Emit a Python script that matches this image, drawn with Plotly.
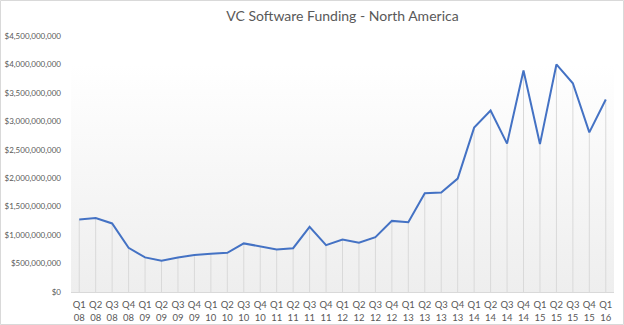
import plotly.graph_objects as go

quarters = ["Q1<br>08","Q2<br>08","Q3<br>08","Q4<br>08",
            "Q1<br>09","Q2<br>09","Q3<br>09","Q4<br>09",
            "Q1<br>10","Q2<br>10","Q3<br>10","Q4<br>10",
            "Q1<br>11","Q2<br>11","Q3<br>11","Q4<br>11",
            "Q1<br>12","Q2<br>12","Q3<br>12","Q4<br>12",
            "Q1<br>13","Q2<br>13","Q3<br>13","Q4<br>13",
            "Q1<br>14","Q2<br>14","Q3<br>14","Q4<br>14",
            "Q1<br>15","Q2<br>15","Q3<br>15","Q4<br>15",
            "Q1<br>16"]
funding = [1.275e9, 1.30e9, 1.205e9, 0.777e9,
           0.608e9, 0.55e9, 0.608e9, 0.65e9,
           0.672e9, 0.69e9, 0.854e9, 0.795e9,
           0.749e9, 0.77e9, 1.146e9, 0.824e9,
           0.924e9, 0.865e9, 0.965e9, 1.25e9,
           1.228e9, 1.737e9, 1.748e9, 1.994e9,
           2.889e9, 3.19e9, 2.608e9, 3.894e9,
           2.60e9, 4.0e9, 3.67e9, 2.806e9,
           3.385e9]
y_ticks = [0, 5e8, 1e9, 1.5e9, 2e9, 2.5e9, 3e9, 3.5e9, 4e9, 4.5e9]
bg_top = 4.0e9

n = len(quarters)
idx = list(range(n))

fig = go.Figure()

# background gradient panel
fig.add_trace(go.Scatter(
    x=[-0.5, n - 0.5], y=[bg_top, bg_top], mode="lines",
    line=dict(width=0), fill="tozeroy",
    fillgradient=dict(type="vertical", start=0, stop=bg_top,
                      colorscale=[[0, "#eeeeee"], [1, "#ffffff"]]),
    hoverinfo="skip", showlegend=False))

# drop lines
fig.add_trace(go.Scatter(
    x=idx, y=funding, mode="none",
    error_y=dict(type="data", symmetric=False, array=[0]*n,
                 arrayminus=funding, color="#d9d9d9", thickness=1, width=0),
    hoverinfo="skip", showlegend=False))

# main line
fig.add_trace(go.Scatter(
    x=idx, y=funding, mode="lines",
    line=dict(color="#4472C4", width=2),
    showlegend=False))

W, H = 624, 325
ml, mr, mt, mb = 71, 10, 36, 33
pw, ph = W - ml - mr, H - mt - mb

fig.update_layout(
    width=W, height=H,
    margin=dict(l=ml, r=mr, t=mt, b=mb),
    paper_bgcolor="white", plot_bgcolor="white",
    font=dict(family="Lato, Open Sans, sans-serif", color="#595959", size=9),
    title=dict(text="VC Software Funding - North America",
               x=0.5, xref="paper", xanchor="center",
               y=1 - 16 / H, yanchor="middle",
               font=dict(size=14, color="#595959")),
    xaxis=dict(range=[-0.5, n - 0.5], tickmode="array", tickvals=idx,
               ticktext=quarters, showgrid=False, zeroline=False,
               showline=True, linecolor="#d9d9d9", linewidth=1,
               ticks="", ticklabelstandoff=4, automargin=False,
               tickfont=dict(size=9.5, color="#595959")),
    yaxis=dict(range=[0, 4.5e9], tickmode="array", tickvals=y_ticks,
               tickformat="$,.0f", showgrid=False, zeroline=False,
               showline=False, ticks="", ticklabelstandoff=9, automargin=False,
               tickfont=dict(size=8, color="#595959")),
    shapes=[dict(type="rect", xref="paper", yref="paper",
                 x0=-(ml - 0.5) / pw, x1=1 + (mr - 0.5) / pw,
                 y0=-(mb - 0.5) / ph, y1=1 + (mt - 0.5) / ph,
                 line=dict(color="#d9d9d9", width=1), fillcolor="rgba(0,0,0,0)",
                 layer="below")],
)

fig.write_html("out.html")
